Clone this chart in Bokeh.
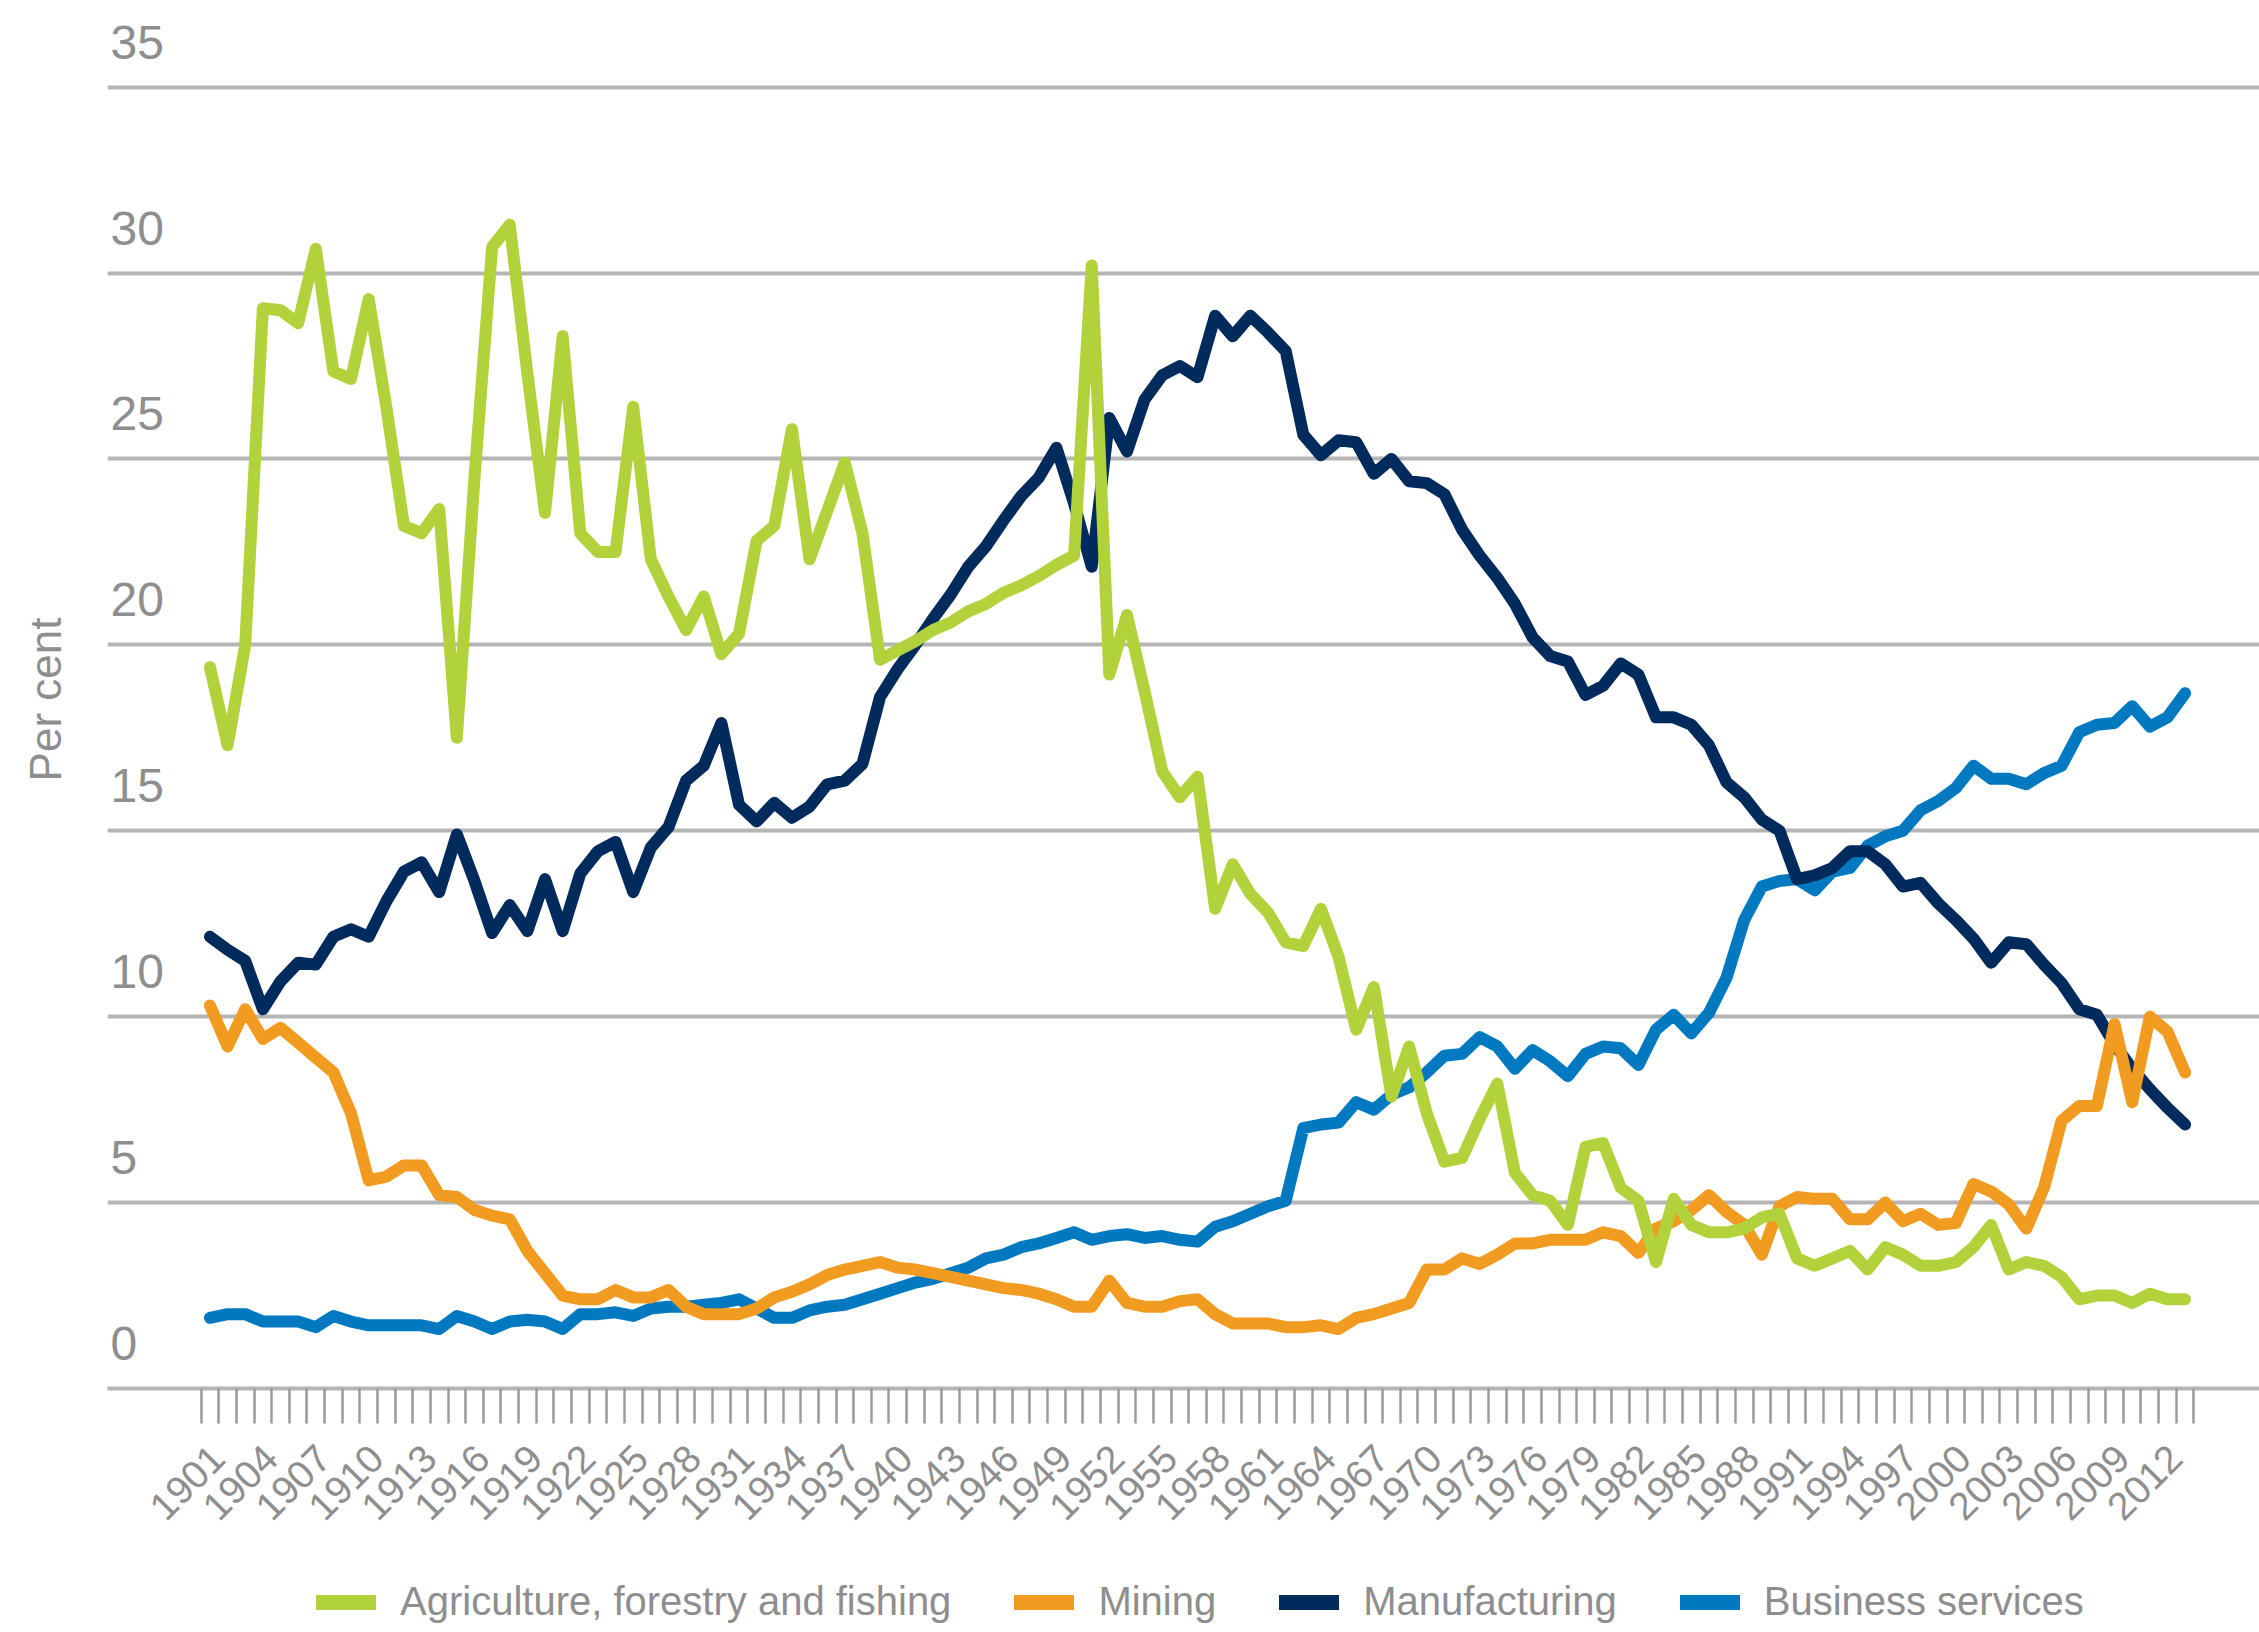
import math
from bokeh.plotting import figure
from bokeh.layouts import column
from bokeh.models import FixedTicker, Legend, LegendItem, Range1d, CustomJSTickFormatter
from bokeh.core.properties import value
from bokeh.embed import file_html
from bokeh.resources import INLINE

years = list(range(1901, 2014))

agriculture = [
    19.4, 17.3, 20.0, 29.05, 29.0, 28.65, 30.65, 27.35, 27.15, 29.3,
    26.4, 23.2, 23.0, 23.65, 17.5, 24.5, 30.7, 31.3, 27.3, 23.55,
    28.3, 23.0, 22.5, 22.5, 26.4, 22.3, 21.3, 20.4, 21.3, 19.75,
    20.3, 22.8, 23.2, 25.8, 22.3, 23.6, 24.9, 23.0, 19.6, 19.85,
    20.1, 20.4, 20.6, 20.9, 21.1, 21.4, 21.6, 21.85, 22.15, 22.4,
    30.2, 19.2, 20.8, 18.75, 16.6, 15.9, 16.45, 12.9, 14.1, 13.3,
    12.8, 12.0, 11.9, 12.9, 11.6, 9.65, 10.8, 7.85, 9.2, 7.4,
    6.1, 6.2, 7.25, 8.2, 5.8, 5.2, 5.05, 4.4, 6.5, 6.6,
    5.4, 5.05, 3.4, 5.1, 4.4, 4.2, 4.2, 4.3, 4.6, 4.7,
    3.5, 3.3, 3.5, 3.7, 3.2, 3.8, 3.6, 3.3, 3.3, 3.4,
    3.8, 4.4, 3.2, 3.4, 3.3, 3.0, 2.4, 2.5, 2.5, 2.3,
    2.55, 2.4, 2.4,
]

mining = [
    10.3, 9.2, 10.2, 9.4, 9.7, 9.3, 8.9, 8.5, 7.4, 5.6,
    5.7, 6.0, 6.0, 5.2, 5.15, 4.8, 4.65, 4.55, 3.7, 3.1,
    2.5, 2.4, 2.4, 2.65, 2.45, 2.45, 2.65, 2.2, 2.0, 2.0,
    2.0, 2.15, 2.45, 2.6, 2.8, 3.05, 3.2, 3.3, 3.4, 3.25,
    3.2, 3.1, 3.0, 2.9, 2.8, 2.7, 2.65, 2.55, 2.4, 2.2,
    2.2, 2.9, 2.3, 2.2, 2.2, 2.35, 2.4, 2.0, 1.75, 1.75,
    1.75, 1.65, 1.65, 1.7, 1.6, 1.9, 2.0, 2.15, 2.3, 3.2,
    3.2, 3.5, 3.35, 3.6, 3.9, 3.9, 4.0, 4.0, 4.0, 4.2,
    4.1, 3.65, 4.3, 4.5, 4.8, 5.2, 4.75, 4.4, 3.6, 4.9,
    5.15, 5.1, 5.1, 4.55, 4.55, 5.0, 4.5, 4.7, 4.4, 4.45,
    5.5, 5.3, 4.95, 4.3, 5.4, 7.2, 7.6, 7.6, 9.8, 7.7,
    10.0, 9.6, 8.5,
]

manufacturing = [
    12.15, 11.8, 11.5, 10.2, 10.95, 11.45, 11.4, 12.15, 12.35, 12.15,
    13.1, 13.9, 14.15, 13.35, 14.9, 13.65, 12.25, 13.0, 12.3, 13.7,
    12.3, 13.85, 14.45, 14.7, 13.35, 14.55, 15.1, 16.35, 16.75, 17.9,
    15.7, 15.25, 15.75, 15.35, 15.65, 16.25, 16.35, 16.8, 18.6, 19.35,
    20.0, 20.7, 21.35, 22.1, 22.65, 23.35, 24.0, 24.5, 25.3, 23.8,
    22.1, 26.1, 25.2, 26.6, 27.25, 27.5, 27.2, 28.85, 28.3, 28.85,
    28.4, 27.9, 25.65, 25.1, 25.5, 25.45, 24.6, 25.0, 24.4, 24.35,
    24.05, 23.1, 22.4, 21.8, 21.1, 20.2, 19.7, 19.55, 18.65, 18.9,
    19.5, 19.2, 18.05, 18.05, 17.85, 17.3, 16.3, 15.9, 15.3, 15.0,
    13.7, 13.8, 14.0, 14.45, 14.45, 14.1, 13.5, 13.6, 13.05, 12.6,
    12.1, 11.45, 12.0, 11.95, 11.4, 10.9, 10.2, 10.05, 9.25, 8.6,
    8.05, 7.55, 7.1,
]

business = [
    1.9, 2.0, 2.0, 1.8, 1.8, 1.8, 1.65, 1.95, 1.8, 1.7,
    1.7, 1.7, 1.7, 1.6, 1.95, 1.8, 1.6, 1.8, 1.85, 1.8,
    1.6, 2.0, 2.0, 2.05, 1.95, 2.15, 2.2, 2.2, 2.25, 2.3,
    2.4, 2.15, 1.9, 1.9, 2.1, 2.2, 2.25, 2.4, 2.55, 2.7,
    2.85, 2.95, 3.1, 3.25, 3.5, 3.6, 3.8, 3.9, 4.05, 4.2,
    4.0, 4.1, 4.15, 4.05, 4.1, 4.0, 3.95, 4.35, 4.5, 4.7,
    4.9, 5.05, 7.0, 7.1, 7.15, 7.7, 7.5, 7.9, 8.1, 8.5,
    8.95, 9.0, 9.45, 9.2, 8.6, 9.1, 8.8, 8.4, 9.0, 9.2,
    9.15, 8.7, 9.65, 10.05, 9.55, 10.1, 11.05, 12.6, 13.5, 13.65,
    13.7, 13.4, 13.9, 14.0, 14.6, 14.85, 15.0, 15.55, 15.8, 16.15,
    16.75, 16.4, 16.4, 16.25, 16.55, 16.75, 17.65, 17.85, 17.9, 18.35,
    17.8, 18.05, 18.7,
]

series_names = ["Agriculture, forestry and fishing", "Mining", "Manufacturing", "Business services"]
series_colors = ["#b1d23a", "#f29b21", "#002b5c", "#0079c1"]

y_ticks = [0, 5, 10, 15, 20, 25, 30, 35]
y_tick_labels = ["0", "5", "10", "15", "20", "25", "30", "35"]
x_label_years = list(range(1901, 2013, 3))
x_boundaries = [y - 0.5 for y in range(1901, 2015)]
y_title = "Per cent"

FONT = "Liberation Sans"
GREY_TEXT = "#8e8e8e"
GRID = "#b5b5b5"

x_start, x_end = 1895.19, 2017.22
y_start, y_end = 0, 37.06
LABEL_SHIFT = 0.45  # nudges rotated year labels to sit like the original

p = figure(width=2259, height=1553, output_backend="svg", toolbar_location=None,
           x_range=Range1d(x_start, x_end), y_range=Range1d(y_start, y_end),
           min_border_left=107, min_border_right=0, min_border_top=10, min_border_bottom=165)
p.outline_line_color = None
p.background_fill_color = "white"
p.border_fill_color = "white"

# grid
p.xgrid.visible = False
p.ygrid.ticker = FixedTicker(ticks=y_ticks)
p.ygrid.grid_line_color = GRID
p.ygrid.grid_line_width = 4

# y axis: only the title
p.yaxis.ticker = FixedTicker(ticks=[])
p.yaxis.axis_line_color = None
p.yaxis.major_tick_line_color = None
p.yaxis.minor_tick_line_color = None
p.yaxis.major_tick_out = 0
p.yaxis.major_label_standoff = 0
p.yaxis.axis_label = y_title
p.yaxis.axis_label_text_font = FONT
p.yaxis.axis_label_text_font_size = "44px"
p.yaxis.axis_label_text_font_style = "normal"
p.yaxis.axis_label_text_color = GREY_TEXT
p.yaxis.axis_label_standoff = 38

# x axis
p.xaxis.ticker = FixedTicker(ticks=[y + LABEL_SHIFT for y in x_label_years], minor_ticks=x_boundaries)
p.xaxis.formatter = CustomJSTickFormatter(code="return String(Math.floor(tick));")
p.xaxis.axis_line_color = GRID
p.xaxis.axis_line_width = 4
p.xaxis.major_tick_line_color = None
p.xaxis.major_tick_out = 0
p.xaxis.major_tick_in = 0
p.xaxis.minor_tick_line_color = "#9a9a9a"
p.xaxis.minor_tick_line_width = 2.5
p.xaxis.minor_tick_out = 35
p.xaxis.minor_tick_in = 0
p.xaxis.major_label_orientation = math.pi / 4
p.xaxis.major_label_text_font = FONT
p.xaxis.major_label_text_font_size = "39px"
p.xaxis.major_label_text_color = GREY_TEXT
p.xaxis.major_label_standoff = 28

# y tick labels sitting above the grid lines
p.text(x=[x_start] * len(y_ticks), y=y_ticks, text=y_tick_labels,
       x_offset=3, y_offset=-45, text_font=value(FONT), text_font_size="48px",
       text_color=GREY_TEXT, text_align="left", text_baseline="middle")

data = [agriculture, mining, manufacturing, business]
for idx in [3, 2, 1, 0]:
    p.line(years, data[idx], line_color=series_colors[idx], line_width=12,
           line_join="round", line_cap="round")

# legend strip below the chart
p2 = figure(width=2259, height=79, output_backend="svg", toolbar_location=None,
            x_range=Range1d(0, 1), y_range=Range1d(0, 1), min_border=0,
            x_axis_location=None, y_axis_location=None)
p2.grid.visible = False
p2.outline_line_color = None
p2.background_fill_color = "white"
p2.border_fill_color = "white"

swatches = []
for idx in range(4):
    swatches.append(p2.line(x=[float("nan")], y=[float("nan")], line_color=series_colors[idx],
                            line_width=15, line_cap="round"))

legend = Legend(items=[LegendItem(label=series_names[i], renderers=[swatches[i]]) for i in range(4)],
                orientation="horizontal", location=(209, 8))
legend.label_text_font = FONT
legend.label_text_font_size = "40px"
legend.label_text_color = GREY_TEXT
legend.glyph_width = 60
legend.glyph_height = 40
legend.label_height = 40
legend.label_standoff = 24
legend.spacing = 63
legend.padding = 0
legend.margin = 0
legend.border_line_color = None
legend.background_fill_alpha = 0
p2.add_layout(legend, "center")

layout = column(p, p2, spacing=0)
open("out.html", "w").write(file_html(layout, INLINE))
